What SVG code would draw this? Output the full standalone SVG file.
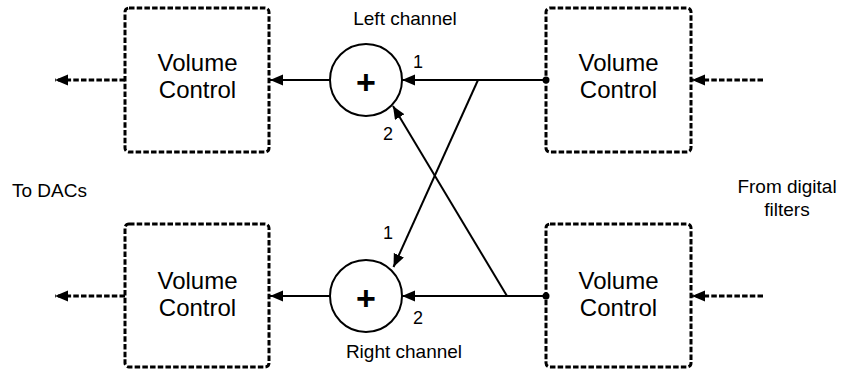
<svg xmlns="http://www.w3.org/2000/svg" width="842" height="372" viewBox="0 0 842 372">
<style>
  .box { fill: #fff; stroke: #000; stroke-width: 3; stroke-dasharray: 5.5 2.2; }
  .dot { fill: none; stroke: #000; stroke-width: 3; stroke-dasharray: 5.5 2.2; }
  .wire { fill: none; stroke: #000; stroke-width: 2; }
  .sum { fill: #fff; stroke: #000; stroke-width: 2; }
  .vc { font-family: "Liberation Sans", Arial, sans-serif; font-size: 24px; text-anchor: middle; fill: #000; }
  .lbl { font-family: "Liberation Sans", Arial, sans-serif; font-size: 19px; fill: #000; }
  .num { font-family: "Liberation Sans", Arial, sans-serif; font-size: 18px; text-anchor: middle; fill: #000; }
  .plus { font-family: "Liberation Sans", Arial, sans-serif; font-size: 34px; font-weight: bold; text-anchor: middle; fill: #000; }
</style>
<defs>
  <marker id="ah" markerUnits="userSpaceOnUse" markerWidth="14" markerHeight="12" refX="13" refY="5.5" orient="auto">
    <path d="M0,0 L13,5.5 L0,11 Z" fill="#000" stroke="none"/>
  </marker>
</defs>

<g id="vc-left-top">
  <rect class="box" x="125" y="8" width="144" height="144" rx="4"/>
  <text class="vc" x="197.5" y="71">Volume</text>
  <text class="vc" x="197.5" y="98">Control</text>
</g>
<g id="vc-left-bottom">
  <rect class="box" x="125" y="224" width="144" height="143" rx="4"/>
  <text class="vc" x="197.5" y="289">Volume</text>
  <text class="vc" x="197.5" y="316">Control</text>
</g>
<g id="vc-right-top">
  <rect class="box" x="546" y="8" width="145" height="144" rx="4"/>
  <text class="vc" x="618.5" y="71">Volume</text>
  <text class="vc" x="618.5" y="98">Control</text>
</g>
<g id="vc-right-bottom">
  <rect class="box" x="546" y="224" width="145" height="143" rx="4"/>
  <text class="vc" x="618.5" y="289">Volume</text>
  <text class="vc" x="618.5" y="316">Control</text>
</g>

<g id="connectors">
  <line class="dot" x1="125" y1="80" x2="55" y2="80" marker-end="url(#ah)"/>
  <line class="dot" x1="125" y1="296" x2="55" y2="296" marker-end="url(#ah)"/>
  <line class="dot" x1="763" y1="80" x2="692" y2="80" marker-end="url(#ah)"/>
  <line class="dot" x1="763" y1="296" x2="692" y2="296" marker-end="url(#ah)"/>
  <line class="wire" x1="330" y1="80" x2="270" y2="80" marker-end="url(#ah)"/>
  <line class="wire" x1="330" y1="296" x2="270" y2="296" marker-end="url(#ah)"/>
  <line class="wire" x1="546" y1="80" x2="402" y2="80" marker-end="url(#ah)"/>
  <line class="wire" x1="546" y1="296" x2="402" y2="296" marker-end="url(#ah)"/>
  <line class="wire" x1="478" y1="80" x2="393.5" y2="267" marker-end="url(#ah)"/>
  <line class="wire" x1="507" y1="296" x2="393" y2="106" marker-end="url(#ah)"/>
  <circle cx="546" cy="80" r="3.5" fill="#000"/>
  <circle cx="546" cy="296" r="3.5" fill="#000"/>
</g>

<g id="sum-left">
  <circle class="sum" cx="366" cy="80" r="36"/>
  <text class="plus" x="366" y="94">+</text>
  <text class="lbl" x="405" y="25" text-anchor="middle">Left channel</text>
  <text class="num" x="418" y="68">1</text>
  <text class="num" x="388" y="140">2</text>
</g>
<g id="sum-right">
  <circle class="sum" cx="366" cy="296" r="36"/>
  <text class="plus" x="366" y="310">+</text>
  <text class="lbl" x="404" y="358" text-anchor="middle">Right channel</text>
  <text class="num" x="388" y="239">1</text>
  <text class="num" x="418" y="324">2</text>
</g>

<g id="label-dacs">
  <text class="lbl" x="12" y="197">To DACs</text>
</g>
<g id="label-filters">
  <text class="lbl" x="787" y="193" text-anchor="middle">From digital</text>
  <text class="lbl" x="787" y="216" text-anchor="middle">filters</text>
</g>
</svg>
